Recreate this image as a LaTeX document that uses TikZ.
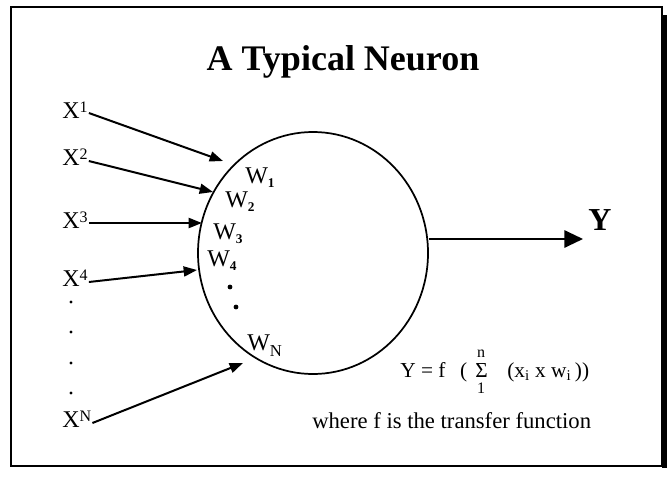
\documentclass[tikz,border=0pt]{standalone}
\usepackage{fontspec}
\setmainfont{Liberation Serif}
\usetikzlibrary{arrows.meta, positioning, calc, shapes.geometric}

\newcommand{\xsup}[1]{\raisebox{4.5pt}{\fontsize{12}{12}\selectfont #1}}
\newcommand{\wsub}[1]{\raisebox{-3pt}{\fontsize{10}{10}\selectfont\bfseries #1}}

\begin{document}
\begin{tikzpicture}[
    x=0.75pt, y=-0.75pt,
    >={Triangle[length=10pt,width=7.5pt]},
    inlabel/.style={
        anchor=base west,
        inner sep=0pt,
        font=\fontsize{18}{20}\selectfont
    },
    wlabel/.style={
        anchor=base west,
        inner sep=0pt,
        font=\fontsize{18}{20}\selectfont
    },
    formtext/.style={
        anchor=base west,
        inner sep=0pt,
        font=\fontsize{16}{18}\selectfont
    },
    limtext/.style={
        anchor=base,
        inner sep=0pt,
        font=\fontsize{12}{13}\selectfont
    },
    inarrow/.style={->, line width=1.5pt},
    outarrow/.style={-{Triangle[length=14pt,width=13pt]}, line width=1.5pt},
    xdot/.style={circle, fill, inner sep=0pt, minimum size=2.3pt},
    wdot/.style={circle, fill, inner sep=0pt, minimum size=3.6pt}
]
    \useasboundingbox (0,0) rectangle (667,478);

    % =========================================================
    % SLIDE FRAME AND TITLE
    % =========================================================
    \draw [line width=1.5pt] (11,7) rectangle (662,466);
    \fill (662,15) rectangle (667,468);

    \node [anchor=base, inner sep=0pt, font=\fontsize{27}{30}\selectfont\bfseries] (title) at (343,70) {A Typical Neuron};

    % =========================================================
    % NEURON BODY
    % =========================================================
    \node [ellipse, draw, line width=1.3pt, inner sep=0pt, minimum width=172.5pt, minimum height=181.5pt] (neuron) at (313,253) {};

    % =========================================================
    % INPUTS
    % =========================================================
    \node [inlabel] (x1) at (62,118) {X\xsup{1}};
    \node [inlabel] (x2) at (62,165) {X\xsup{2}};
    \node [inlabel] (x3) at (62,228) {X\xsup{3}};
    \node [inlabel] (x4) at (62,286) {X\xsup{4}};
    \node [inlabel] (xn) at (62,427) {X\xsup{N}};

    \node [xdot] (xd1) at (71,302) {};
    \node [xdot] (xd2) at (71,332) {};
    \node [xdot] (xd3) at (71,363) {};
    \node [xdot] (xd4) at (71,393) {};

    \coordinate (t1) at (223,161);
    \coordinate (t2) at (213,192);
    \coordinate (t3) at (202,223);
    \coordinate (t4) at (197,270);
    \coordinate (tn) at (243,363);

    \draw [inarrow] ($(x1.base east)+(1,-5)$) -- (t1);
    \draw [inarrow] ($(x2.base east)+(1,-4)$) -- (t2);
    \draw [inarrow] ($(x3.base east)+(1,-5)$) -- (t3);
    \draw [inarrow] ($(x4.base east)+(1,-4)$) -- (t4);
    \draw [inarrow] ($(xn.base east)+(1,-4)$) -- (tn);

    % =========================================================
    % WEIGHTS
    % =========================================================
    \node [wlabel] (w1) at (245,183) {W\wsub{1}};
    \node [wlabel] (w2) at (225,207) {W\wsub{2}};
    \node [wlabel] (w3) at (213,239) {W\wsub{3}};
    \node [wlabel] (w4) at (207,266) {W\wsub{4}};
    \node [wlabel] (wn) at (247,350) {W\raisebox{-5pt}{\fontsize{12.5}{13}\selectfont N}};

    \node [wdot] (wd1) at (230,287) {};
    \node [wdot] (wd2) at (236,307) {};

    % =========================================================
    % OUTPUT
    % =========================================================
    \coordinate (ytip) at (583,239);
    \draw [outarrow] (neuron.east |- ytip) -- (ytip);
    \node [anchor=base west, inner sep=0pt, font=\fontsize{24}{26}\selectfont\bfseries] (yout) at (588,230) {Y};

    % Transfer function
    \node [formtext] (fleft) at (400,377) {Y = f\hspace{11pt}(};
    \node [formtext] (sigma) at (475,377) {Σ};
    \node [limtext] (sigtop) at (481,357) {n};
    \node [limtext] (sigbot) at (481,393) {1};
    \node [formtext] (fright) at (507,377) {(x\textsubscript{i} x w\textsubscript{i}\,))};
    \node [anchor=base west, inner sep=0pt, font=\fontsize{17}{19}\selectfont] (note) at (312,428) {where f is the transfer function};

\end{tikzpicture}
\end{document}
